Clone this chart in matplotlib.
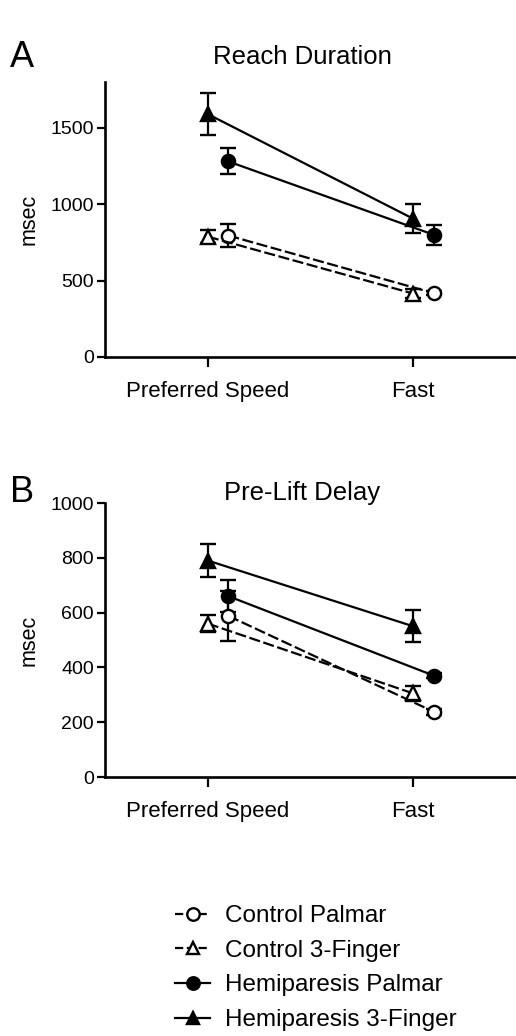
import matplotlib

matplotlib.use('Agg')
import matplotlib.pyplot as plt
from matplotlib.lines import Line2D

plt.rcParams['font.family'] = ['Liberation Sans', 'DejaVu Sans']

conditions = ["Preferred Speed", "Fast"]
groups = ["Control Palmar", "Control 3-Finger", "Hemiparesis Palmar", "Hemiparesis 3-Finger"]

# Reach duration (msec): mean and error
reach_ctrl_palmar = [795, 418]
reach_ctrl_palmar_err = [75, 15]
reach_ctrl_3finger = [788, 415]
reach_ctrl_3finger_err = [45, 30]
reach_hemi_palmar = [1280, 800]
reach_hemi_palmar_err = [85, 65]
reach_hemi_3finger = [1590, 905]
reach_hemi_3finger_err = [140, 95]

# Pre-lift delay (msec)
delay_ctrl_palmar = [588, 238]
delay_ctrl_palmar_err = [90, 10]
delay_ctrl_3finger = [560, 305]
delay_ctrl_3finger_err = [30, 28]
delay_hemi_palmar = [660, 370]
delay_hemi_palmar_err = [58, 10]
delay_hemi_3finger = [790, 550]
delay_hemi_3finger_err = [60, 58]

W, H = 516, 1036
fig = plt.figure(figsize=(W / 100, H / 100), dpi=100)


def px_axes(left, top, right, bottom):
    return fig.add_axes([left / W, 1 - bottom / H, (right - left) / W, (bottom - top) / H])


styles = [
    dict(marker='o', mfc='white', ls='--', offset=0.1),
    dict(marker='^', mfc='white', ls='--', offset=0.0),
    dict(marker='o', mfc='black', ls='-', offset=0.1),
    dict(marker='^', mfc='black', ls='-', offset=0.0),
]


def draw_panel(ax, series, errs, ylim, yticks, title, letter, title_y):
    for st, vals, err in zip(styles, series, errs):
        xs = [i + st['offset'] for i in range(len(conditions))]
        ax.errorbar(xs, vals, yerr=err, color='black', marker=st['marker'],
                    mfc=st['mfc'], mec='black', mew=1.7, ms=9.5 if st['marker'] == 'o' else 10,
                    ls=st['ls'], lw=1.6, capsize=6, capthick=1.6, elinewidth=1.6,
                    dashes=(5, 1.6) if st['ls'] == '--' else (None, None))
    ax.set_xlim(-0.5, 1.5)
    ax.set_ylim(*ylim)
    ax.set_yticks(yticks)
    ax.set_xticks(range(len(conditions)))
    ax.set_xticklabels(conditions, fontsize=16)
    ax.tick_params(axis='y', labelsize=14, length=6, width=1.6, pad=2)
    ax.tick_params(axis='x', length=7, width=1.6, pad=10)
    for side in ['top', 'right']:
        ax.spines[side].set_visible(False)
    for side in ['left', 'bottom']:
        ax.spines[side].set_linewidth(1.9)
    ax.set_ylabel("msec", fontsize=15.5, labelpad=8)
    fig.text(302 / W, 1 - title_y / H, title, fontsize=18.5, ha='center', va='center')
    fig.text(10 / W, 1 - title_y / H, letter, fontsize=26, ha='left', va='center')


ax_a = px_axes(105, 82, 516, 357)
draw_panel(ax_a,
           [reach_ctrl_palmar, reach_ctrl_3finger, reach_hemi_palmar, reach_hemi_3finger],
           [reach_ctrl_palmar_err, reach_ctrl_3finger_err, reach_hemi_palmar_err, reach_hemi_3finger_err],
           (0, 1800), [0, 500, 1000, 1500], "Reach Duration", "A", 57)

ax_b = px_axes(105, 503, 516, 777)
draw_panel(ax_b,
           [delay_ctrl_palmar, delay_ctrl_3finger, delay_hemi_palmar, delay_hemi_3finger],
           [delay_ctrl_palmar_err, delay_ctrl_3finger_err, delay_hemi_palmar_err, delay_hemi_3finger_err],
           (0, 1000), [0, 200, 400, 600, 800, 1000], "Pre-Lift Delay", "B", 493)

handles = [Line2D([], [], color='black', marker=st['marker'], mfc=st['mfc'], mec='black',
                  mew=1.7, ms=9, ls=st['ls'], lw=1.6)
           for st in styles]
fig.legend(handles, groups, loc='upper left', bbox_to_anchor=(163 / W, 1 - 893 / H),
           frameon=False, fontsize=17.5, handlelength=1.45, handletextpad=0.6,
           labelspacing=0.52, borderpad=0)

fig.savefig('out.png', dpi=100)
